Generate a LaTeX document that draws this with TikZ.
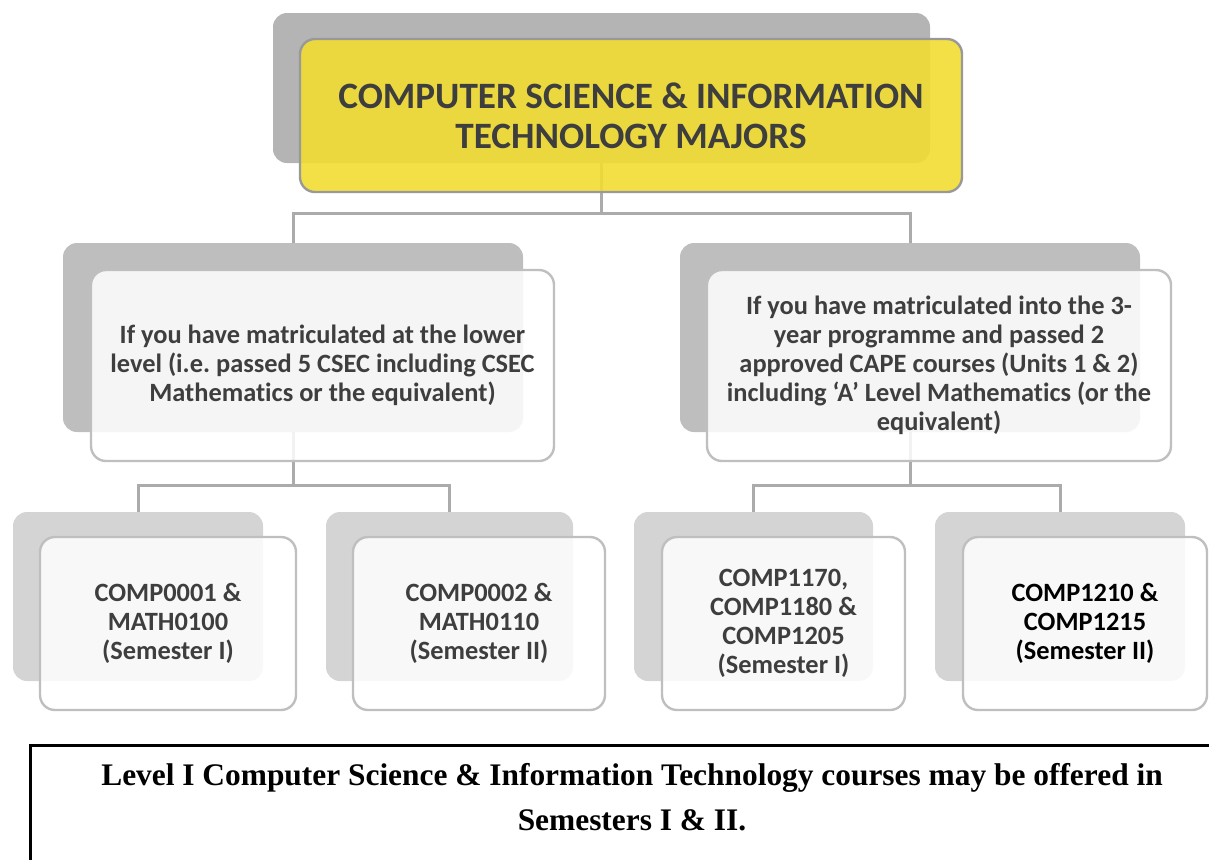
\documentclass[tikz,border=0pt]{standalone}
\usepackage{fontspec}
\setmainfont[Ligatures=NoCommon]{Carlito}
\newfontfamily\notefont{Liberation Serif}
\definecolor{topshade}{HTML}{B4B4B4}
\definecolor{midshade}{HTML}{BEBEBE}
\definecolor{lowshade}{HTML}{D4D4D4}
\definecolor{majoryellow}{HTML}{F2DC32}
\definecolor{boxline}{HTML}{BFBFBF}
\definecolor{linkgray}{HTML}{ABABAB}
\definecolor{textgray}{HTML}{3E3E3E}

\begin{document}
\begin{tikzpicture}[x=0.5pt,y=-0.5pt]

      \useasboundingbox (0,0) rectangle (1209,859);

      \begin{scope}[every node/.style={rounded corners=7pt,inner sep=0pt}]
        \node[fill=topshade,minimum width=328.5pt,minimum height=75pt] (tops)  at (601.5,88)  {};
        \node[fill=midshade,minimum width=230pt,minimum height=94.5pt] (lows)  at (293,337.5)  {};
        \node[fill=midshade,minimum width=230pt,minimum height=94.5pt] (capes) at (910,337.5)  {};
        \node[fill=lowshade,minimum width=125pt,minimum height=84.5pt] (c1s)   at (138,596.5)  {};
        \node[fill=lowshade,minimum width=123.5pt,minimum height=84.5pt] (c2s) at (449.5,596.5) {};
        \node[fill=lowshade,minimum width=119.5pt,minimum height=84.5pt] (c3s) at (753.5,596.5) {};
        \node[fill=lowshade,minimum width=125pt,minimum height=84.5pt] (c4s)   at (1060,596.5) {};
      \end{scope}

      \coordinate (j0) at (601.5,213);
      \coordinate (j1) at (293,485);
      \coordinate (j2) at (910,485);

      \begin{scope}[draw=linkgray,line width=1.5pt]
        \draw (tops.south) -- (j0) -| (lows.north);
        \draw (j0) -| (capes.north);
        \draw (lows.south) -- (j1) -| (c1s.north);
        \draw (j1) -| (c2s.north);
        \draw (capes.south) -- (j2) -| (c3s.north);
        \draw (j2) -| (c4s.north);
      \end{scope}

      \begin{scope}[every node/.style={rounded corners=7.5pt,inner sep=0pt,align=center,
          draw=boxline,line width=1.2pt,fill=white,fill opacity=0.85,text opacity=1,
          text=textgray,font=\bfseries\fontsize{13.2}{14.5}\selectfont}]
        \node[draw=gray!80,fill=majoryellow,fill opacity=0.9,minimum width=331pt,minimum height=76.5pt,
          font=\bfseries\fontsize{18.6}{20}\selectfont] (top) at (631,115.5)
          {COMPUTER SCIENCE \& INFORMATION\\TECHNOLOGY MAJORS};
        \node[minimum width=231.5pt,minimum height=95.5pt] (low) at (322.5,365.5)
          {If you have matriculated at the lower\\level (i.e.\ passed 5 CSEC including CSEC\\Mathematics or the equivalent)};
        \node[minimum width=232pt,minimum height=95.5pt] (cape) at (939,365.5)
          {If you have matriculated into the 3-\\year programme and passed 2\\approved CAPE courses (Units 1 \& 2)\\including ‘A’ Level Mathematics (or the\\equivalent)};
        \node[minimum width=128pt,minimum height=86.5pt] (c1) at (168,623.5)
          {COMP0001 \&\\MATH0100\\(Semester I)};
        \node[minimum width=126pt,minimum height=86.5pt] (c2) at (479,623.5)
          {COMP0002 \&\\MATH0110\\(Semester II)};
        \node[minimum width=121.5pt,minimum height=86.5pt] (c3) at (783.5,623.5)
          {COMP1170,\\COMP1180 \&\\COMP1205\\(Semester I)};
        \node[minimum width=122pt,minimum height=86.5pt,text=black] (c4) at (1085,623.5)
          {COMP1210 \&\\COMP1215\\(Semester II)};
      \end{scope}

      \node[draw,line width=1.5pt,minimum width=603pt,minimum height=78pt,inner sep=0pt,
        anchor=north west] (note) at (29,744) {};
      \node[align=center,font=\notefont\bfseries\fontsize{15.7}{22.5}\selectfont] (notetext) at (632,797)
        {Level I Computer Science \& Information Technology courses may be offered in\\Semesters I \& II.};

    \end{tikzpicture}
\end{document}
